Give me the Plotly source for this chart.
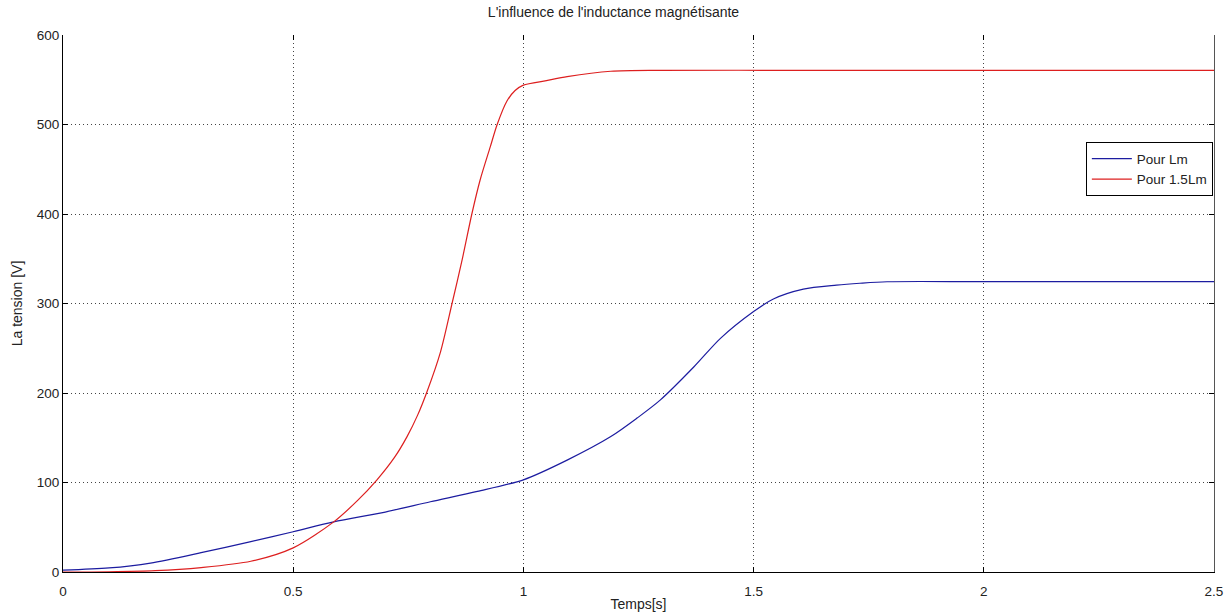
import plotly.graph_objects as go

# Tension for the nominal magnetising inductance (Lm)
t_lm = [0, 0.1, 0.19, 0.3, 0.408, 0.5, 0.588, 0.7, 0.798, 0.9, 1.0, 1.095,
        1.189, 1.247, 1.297, 1.37, 1.428, 1.5, 1.543, 1.608, 1.68, 1.731,
        1.79, 2.0, 2.5]
v_lm = [2, 4.5, 10, 21.6, 34, 45, 56, 67, 78.5, 90, 103, 125,
        151, 172, 192, 229, 261, 291, 305, 316, 320.5, 322.6,
        324.3, 324.4, 324.4]

# Tension for 1.5 x Lm
t_15lm = [0, 0.1, 0.2, 0.3, 0.408, 0.5, 0.588, 0.64, 0.682, 0.72, 0.747, 0.77,
          0.791, 0.82, 0.845, 0.867, 0.888, 0.906, 0.928, 0.943, 0.964,
          0.982, 1.0, 1.05, 1.095, 1.19, 1.3, 1.6, 2.0, 2.5]
v_15lm = [0, 0.3, 1.5, 5, 12, 27, 56, 80, 103, 128, 151, 175,
          202, 246, 300, 349, 400, 438, 475, 500, 526,
          538, 544, 549, 553.5, 559.5, 560.5, 560.5, 560.5, 560.5]

x_ticks = [0, 0.5, 1, 1.5, 2, 2.5]
x_tick_text = ["0", "0.5", "1", "1.5", "2", "2.5"]
y_ticks = [0, 100, 200, 300, 400, 500, 600]

FONT = "Liberation Sans, Arial, sans-serif"
TXT = "#222222"
TICK_SIZE = 13.5
LABEL_SIZE = 14

fig = go.Figure()
fig.add_trace(go.Scatter(x=t_lm, y=v_lm, mode="lines", name="Pour Lm",
                         line=dict(color="#1c1ca0", width=1.2, shape="spline", smoothing=0.8)))
fig.add_trace(go.Scatter(x=t_15lm, y=v_15lm, mode="lines", name="Pour 1.5Lm",
                         line=dict(color="#dd1f1f", width=1.2, shape="spline", smoothing=0.8)))

grid = dict(showgrid=True, gridcolor="#444444", griddash="1px,3px", gridwidth=1)

fig.update_layout(
    width=1227, height=612,
    margin=dict(l=63, r=13, t=35, b=40, autoexpand=False),
    paper_bgcolor="white", plot_bgcolor="white",
    font=dict(family=FONT, size=TICK_SIZE, color=TXT),
    title=dict(text="L'influence de l'inductance magnétisante", x=0.5, xanchor="center",
               y=0.988, yanchor="top", font=dict(family=FONT, size=LABEL_SIZE, color=TXT)),
    showlegend=True,
    legend=dict(x=0.999, xanchor="right", y=0.8, yanchor="top",
                bgcolor="white", bordercolor="black", borderwidth=1,
                font=dict(family=FONT, size=TICK_SIZE, color=TXT),
                tracegroupgap=0, itemwidth=40),
    xaxis=dict(range=[0, 2.5], tickvals=x_ticks, ticktext=x_tick_text,
               ticks="inside", ticklen=5, tickcolor="black", automargin=False,
               ticklabelstandoff=7, tickfont=dict(size=TICK_SIZE),
               showline=True, linecolor="black", linewidth=1,
               zeroline=False, title=dict(text="Temps[s]", standoff=0,
                                          font=dict(family=FONT, size=LABEL_SIZE, color=TXT)),
               **grid),
    yaxis=dict(range=[0, 600], tickvals=y_ticks, automargin=False,
               ticks="inside", ticklen=5, tickcolor="black", tickfont=dict(size=TICK_SIZE),
               showline=True, linecolor="black", linewidth=1,
               zeroline=False, title=dict(text="La tension [V]", standoff=10,
                                          font=dict(family=FONT, size=LABEL_SIZE, color=TXT)),
               **grid),
    # Box ticks on the top and right edges
    xaxis2=dict(range=[0, 2.5], tickvals=x_ticks, overlaying="x", side="top",
                ticks="inside", ticklen=5, tickcolor="black", showticklabels=False,
                showline=False, showgrid=False, zeroline=False, automargin=False),
    yaxis2=dict(range=[0, 600], tickvals=y_ticks, overlaying="y", side="right",
                ticks="inside", ticklen=5, tickcolor="black", showticklabels=False,
                showline=True, linecolor="#555555", linewidth=1,
                showgrid=False, zeroline=False, automargin=False),
)

# Invisible helper trace so the mirrored axes get drawn
fig.add_trace(go.Scatter(x=[0, 2.5], y=[0, 600], xaxis="x2", yaxis="y2",
                         mode="none", showlegend=False, hoverinfo="skip"))

fig.write_html("out.html")
